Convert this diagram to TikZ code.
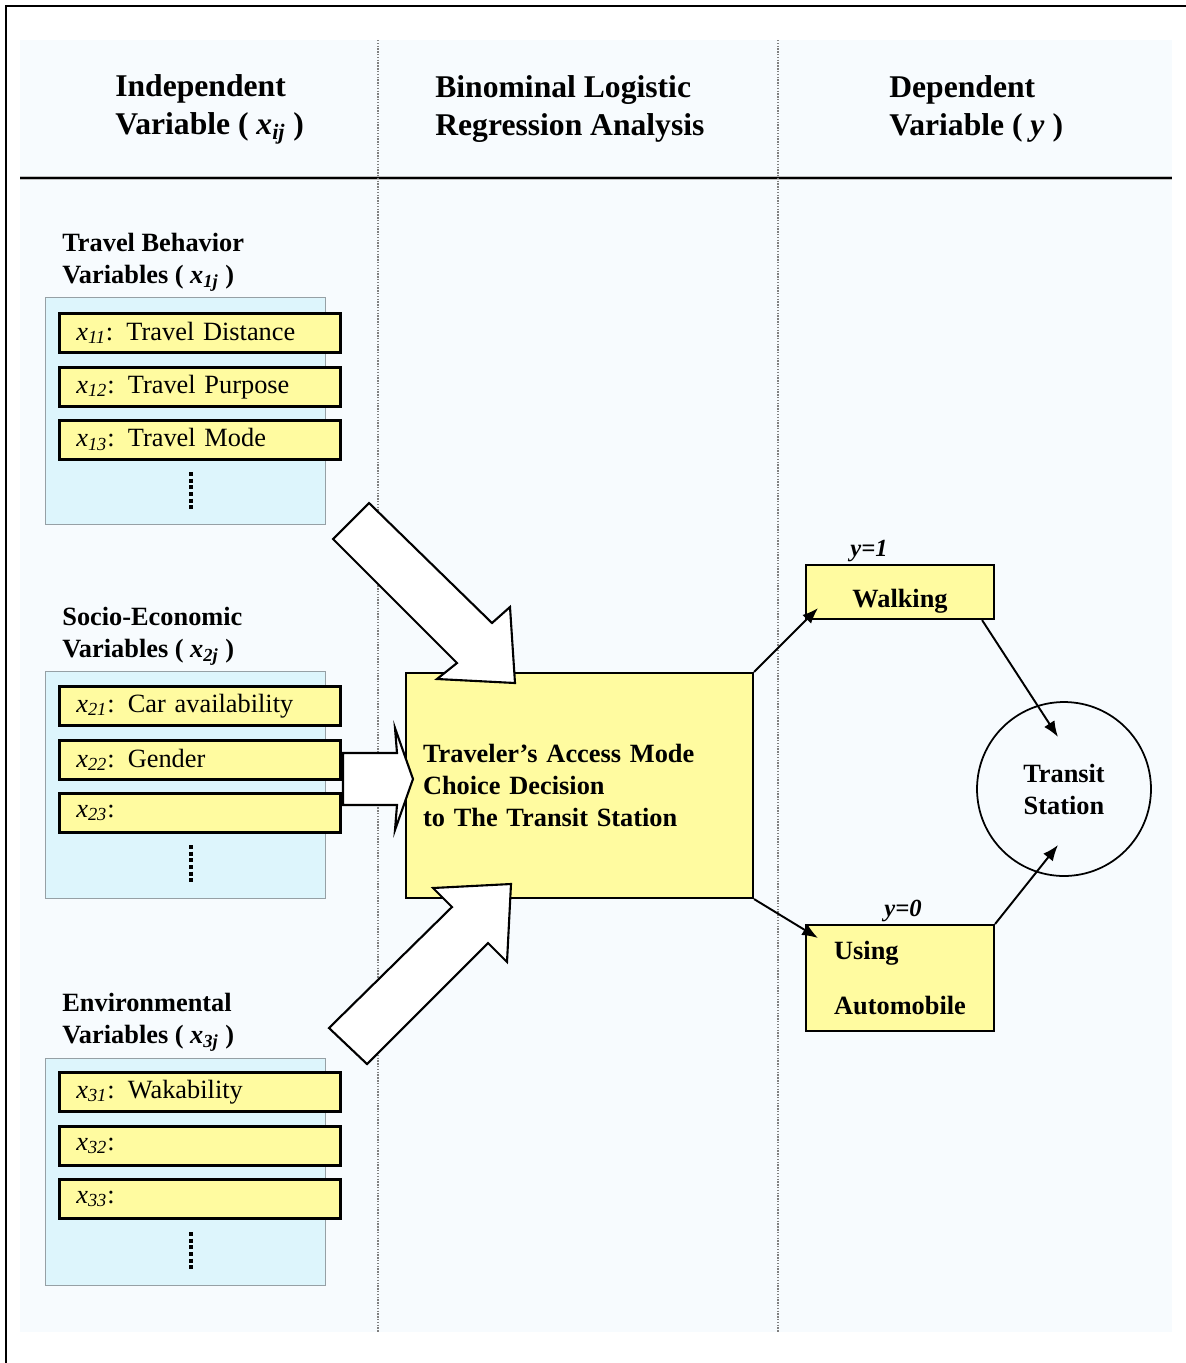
\documentclass[tikz,border=0pt]{standalone}
\usepackage{fontspec}
\setmainfont{Liberation Serif}
\usepackage{tikz}
\usetikzlibrary{arrows.meta}

\newcommand{\xv}[1]{\textit{x}\textsubscript{\textit{#1}}}

\begin{document}
\begin{tikzpicture}[x=0.02cm,y=-0.02cm,>={Latex[length=9pt,width=7pt]},
  head/.style={align=left, anchor=west, inner sep=0pt,
               font=\fontsize{18}{21.6}\selectfont\bfseries},
  grouptitle/.style={align=left, anchor=west, inner sep=0pt,
               font=\fontsize{15}{18.2}\selectfont\bfseries},
  panel/.style={draw=panelgray, fill=panelblue, line width=0.8pt,
               anchor=north west, inner sep=0pt,
               minimum width=5.6cm, minimum height=4.54cm},
  item/.style={draw, fill=boxyellow, line width=1.5pt, anchor=north west,
               minimum height=0.78cm, text width=4.94cm, inner xsep=0.34cm,
               inner ysep=0pt, align=left, font=\fontsize{15}{18}\selectfont},
  choice/.style={draw, fill=boxyellow, line width=1.2pt, anchor=north west,
               font=\fontsize{15}{18.2}\selectfont\bfseries},
  ylab/.style={anchor=south, inner sep=1pt,
               font=\fontsize{14}{16}\selectfont\bfseries\itshape},
  dots/.style={line width=2.3pt, dash pattern=on 2.2pt off 1.6pt},
  divider/.style={draw=gray, line width=0.6pt, dash pattern=on 0.8pt off 0.8pt},
  blockarrow/.style={draw, fill=white, line width=1.2pt, line join=miter},
  conn/.style={->, line width=1.1pt}]
\definecolor{boxyellow}{RGB}{255,251,160}
\definecolor{panelblue}{RGB}{221,245,252}
\definecolor{panelgray}{RGB}{150,160,165}
\definecolor{bgblue}{RGB}{247,251,254}
\useasboundingbox (0,0) rectangle (1186,1363);
\fill[bgblue] (20,40) rectangle (1172,1332);
\draw[line width=1.6pt] (6,1363) -- (6,6) -- (1186,6);
\draw[gray!50, line width=2.6pt] (20,178) -- (1172,178);
\draw[line width=1.2pt] (20,178) -- (1172,178);
\draw[divider] (378,40) -- (378,1332);
\draw[divider] (778,40) -- (778,1332);

\node[head] (hind) at (115,109) {Independent\\Variable ( \xv{ij} )};
\node[head] (hreg) at (435,109) {Binominal Logistic\\Regression Analysis};
\node[head] (hdep) at (889,109) {Dependent\\Variable ( \textit{y} )};

% travel behavior
\node[grouptitle] (g1) at (62,262) {Travel Behavior\\Variables ( \xv{1j} )};
\node[panel] (p1) at (45,297) {};
\node[item] (x11) at (58,312) {\xv{11}: Travel Distance};
\node[item] (x12) at (58,366) {\xv{12}: Travel Purpose};
\node[item] (x13) at (58,419) {\xv{13}: Travel Mode};
\draw[dots] (191,472) -- (191,510);

% socio-economic
\node[grouptitle] (g2) at (62,636) {Socio-Economic\\Variables ( \xv{2j} )};
\node[panel] (p2) at (45,671) {};
\node[item] (x21) at (58,685) {\xv{21}: Car availability};
\node[item] (x22) at (58,739) {\xv{22}: Gender};
\node[item] (x23) at (58,792) {\xv{23}:};
\draw[dots] (191,845) -- (191,884);

% environmental
\node[grouptitle] (g3) at (62,1022) {Environmental\\Variables ( \xv{3j} )};
\node[panel] (p3) at (45,1058) {};
\node[item] (x31) at (58,1071) {\xv{31}: Wakability};
\node[item] (x32) at (58,1125) {\xv{32}:};
\node[item] (x33) at (58,1178) {\xv{33}:};
\draw[dots] (191,1232) -- (191,1270);

\node[choice,
      minimum width=6.94cm,
      minimum height=4.5cm,
      text width=6.26cm,
      inner xsep=0.34cm,
      align=left] (dec) at (405,672) {Traveler's Access Mode\\Choice Decision\\to The Transit Station};

\draw[blockarrow] (369,503) -- (492,623) -- (510,607) -- (515,683) -- (437,679) -- (457,663) -- (333,539) -- cycle;
\draw[blockarrow] (343,753) -- (397,753) -- (395,728) -- (413,779) -- (395,830) -- (397,805) -- (343,805) -- cycle;
\draw[blockarrow] (329,1028) -- (452,907) -- (433,888) -- (511,884) -- (507,962) -- (488,943) -- (367,1064) -- cycle;

\node[choice,
      minimum width=3.76cm,
      minimum height=1.08cm,
      text height=18pt,
      text depth=0pt] (walk) at (805,564) {Walking};
\node[choice,
      minimum width=3.76cm,
      minimum height=2.12cm,
      align=left] (auto) at (805,924) {Using\\[13pt]Automobile};
\node[ylab] (y1) at ([xshift=-0.62cm]walk.north) {y=1};
\node[ylab] (y0) at ([xshift=0.06cm]auto.north) {y=0};

\node[circle,
      draw,
      line width=1pt,
      minimum size=3.48cm,
      align=center,
      font=\fontsize{15}{18.2}\selectfont\bfseries] (station) at (1064,789) {Transit\\Station};

\coordinate (wIn) at ([shift={(13,-12)}]walk.south west);
\coordinate (aIn) at ([shift={(13,14)}]auto.north west);
\coordinate (sTop) at ([shift={(-6,-52)}]station.center);
\coordinate (sBot) at ([shift={(-6,56)}]station.center);
\coordinate (wOut) at ([xshift=-0.26cm]walk.south east);
\draw[conn] (dec.north east) -- (wIn);
\draw[conn] (dec.south east) -- (aIn);
\draw[conn] (wOut) -- (sTop);
\draw[conn] (auto.north east) -- (sBot);
\end{tikzpicture}
\end{document}
